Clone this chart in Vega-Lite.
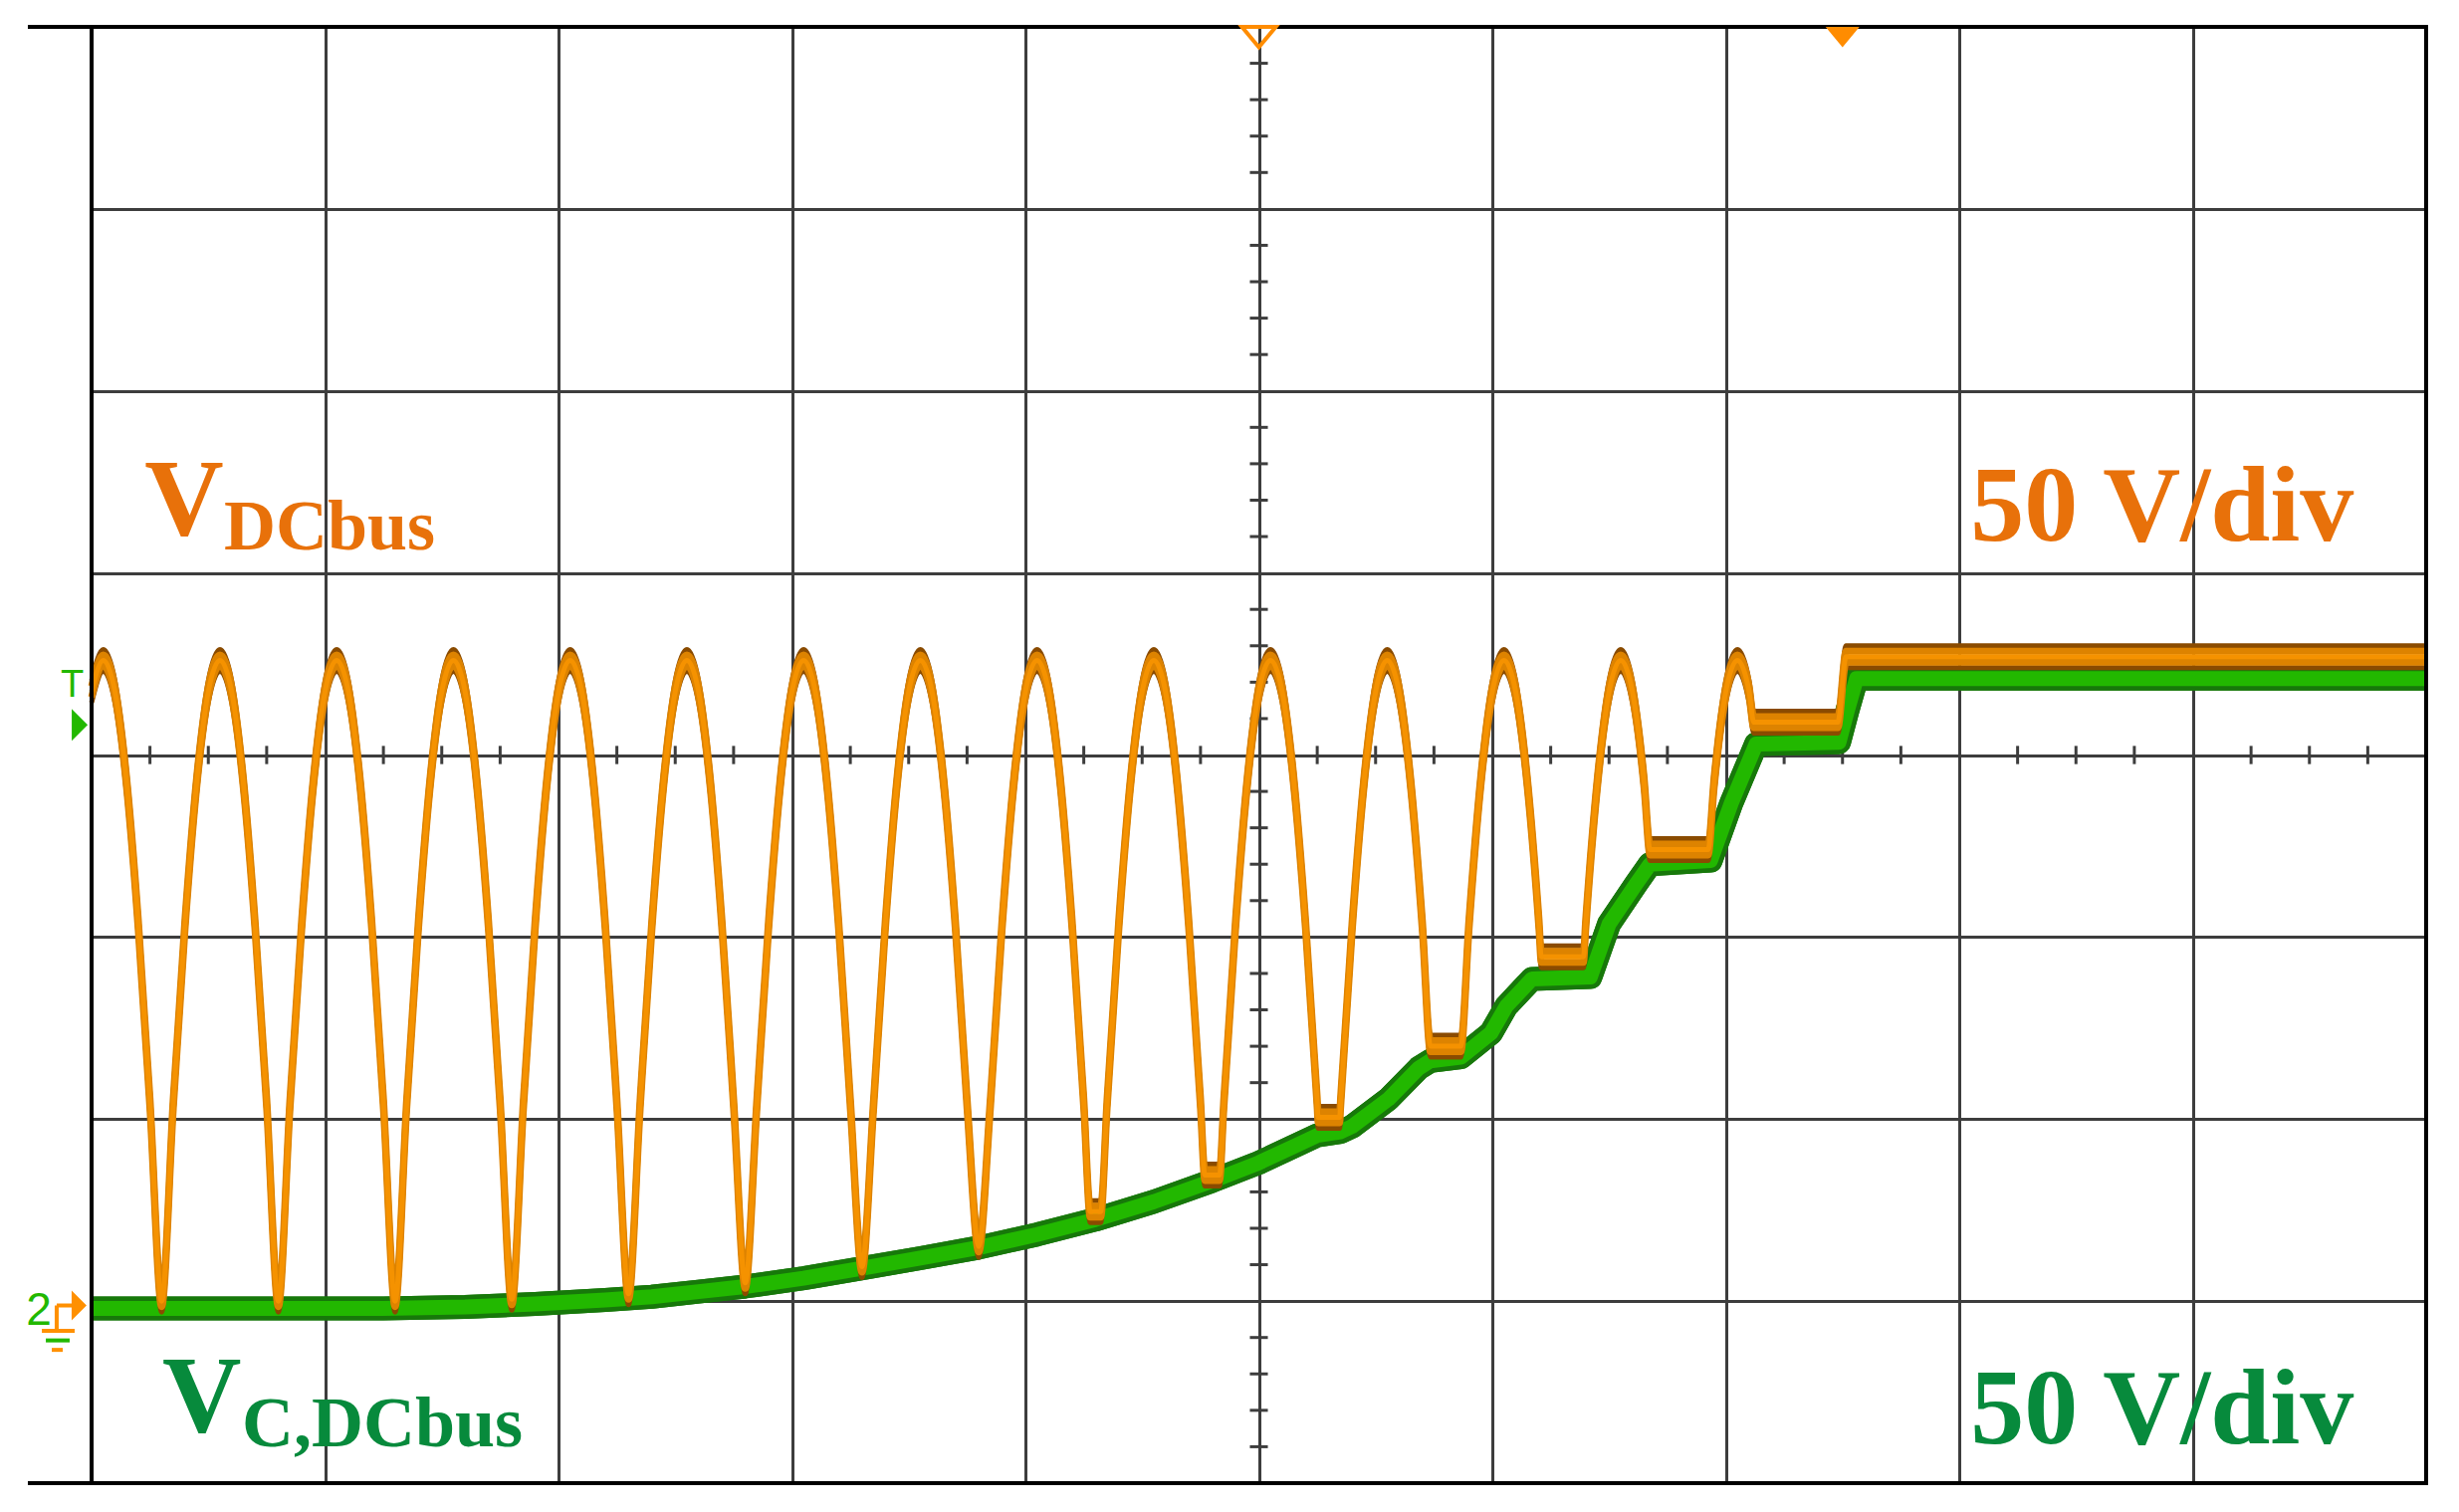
{
"$schema":"https://vega.github.io/schema/vega-lite/v6.json",
"width":2345,"height":1463,
"autosize":{"type":"none"},
"padding":{"left":92,"top":27,"right":33,"bottom":29},
"background":"#ffffff",
"data":{"values":[{}]},
"config":{"view":{"stroke":null},"axis":{"labels":false,"ticks":false,"domain":false,"grid":true,"gridColor":"#3d3d3d","gridWidth":3,"gridOpacity":1,"titleOpacity":0}},
"datasets":{
"vdcbus":[
{"t":0,"v":167.4},{"t":1,"v":176},{"t":2,"v":167.4},{"t":3,"v":142.4},{"t":4,"v":103.4},{"t":5,"v":54.4},{"t":6,"v":0},{"t":7,"v":54.4},{"t":8,"v":103.4},{"t":9,"v":142.4},
{"t":10,"v":167.4},{"t":11,"v":176},{"t":12,"v":167.4},{"t":13,"v":142.4},{"t":14,"v":103.4},{"t":15,"v":54.4},{"t":16,"v":0},{"t":17,"v":54.4},{"t":18,"v":103.4},{"t":19,"v":142.4},
{"t":20,"v":167.4},{"t":21,"v":176},{"t":22,"v":167.4},{"t":23,"v":142.4},{"t":24,"v":103.4},{"t":25,"v":54.4},{"t":26,"v":0},{"t":27,"v":54.4},{"t":28,"v":103.4},{"t":29,"v":142.4},
{"t":30,"v":167.4},{"t":31,"v":176},{"t":32,"v":167.4},{"t":33,"v":142.4},{"t":34,"v":103.4},{"t":35,"v":54.4},{"t":36,"v":0.5},{"t":37,"v":54.4},{"t":38,"v":103.4},{"t":39,"v":142.4},
{"t":40,"v":167.4},{"t":41,"v":176},{"t":42,"v":167.4},{"t":43,"v":142.4},{"t":44,"v":103.4},{"t":45,"v":54.4},{"t":46,"v":2},{"t":47,"v":54.4},{"t":48,"v":103.4},{"t":49,"v":142.4},
{"t":50,"v":167.4},{"t":51,"v":176},{"t":52,"v":167.4},{"t":53,"v":142.4},{"t":54,"v":103.4},{"t":55,"v":54.4},{"t":56,"v":5},{"t":57,"v":54.4},{"t":58,"v":103.4},{"t":59,"v":142.4},
{"t":60,"v":167.4},{"t":61,"v":176},{"t":62,"v":167.4},{"t":63,"v":142.4},{"t":64,"v":103.4},{"t":65,"v":54.4},{"t":66,"v":9.5},{"t":67,"v":54.4},{"t":68,"v":103.4},{"t":69,"v":142.4},
{"t":70,"v":167.4},{"t":71,"v":176},{"t":72,"v":167.4},{"t":73,"v":142.4},{"t":74,"v":103.4},{"t":75,"v":54.4},{"t":76,"v":15},{"t":77,"v":54.4},{"t":78,"v":103.4},{"t":79,"v":142.4},
{"t":80,"v":167.4},{"t":81,"v":176},{"t":82,"v":167.4},{"t":83,"v":142.4},{"t":84,"v":103.4},{"t":85,"v":54.4},{"t":85.55,"v":24.6},{"t":86.45,"v":24.6},{"t":87,"v":54.4},{"t":88,"v":103.4},{"t":89,"v":142.4},
{"t":90,"v":167.4},{"t":91,"v":176},{"t":92,"v":167.4},{"t":93,"v":142.4},{"t":94,"v":103.4},{"t":95,"v":54.4},{"t":95.37,"v":34.6},{"t":96.63,"v":34.6},{"t":97,"v":54.4},{"t":98,"v":103.4},{"t":99,"v":142.4},
{"t":100,"v":167.4},{"t":101,"v":176},{"t":102,"v":167.4},{"t":103,"v":142.4},{"t":104,"v":103.4},{"t":105,"v":54.4},{"t":105.07,"v":50.5},{"t":106.93,"v":50.5},{"t":107,"v":54.4},{"t":108,"v":103.4},{"t":109,"v":142.4},
{"t":110,"v":167.4},{"t":111,"v":176},{"t":112,"v":167.4},{"t":113,"v":142.4},{"t":114,"v":103.4},{"t":114.7,"v":70},{"t":117.3,"v":70},{"t":118,"v":103.4},{"t":119,"v":142.4},
{"t":120,"v":167.4},{"t":121,"v":176},{"t":122,"v":167.4},{"t":123,"v":142.4},{"t":124,"v":103.4},{"t":124.19,"v":94.6},{"t":127.81,"v":94.6},{"t":128,"v":103.4},{"t":129,"v":142.4},
{"t":130,"v":167.4},{"t":131,"v":176},{"t":132,"v":167.4},{"t":133,"v":142.4},{"t":133.51,"v":124},{"t":138.49,"v":124},{"t":139,"v":142.4},
{"t":140,"v":167.4},{"t":141,"v":176},{"t":142,"v":167.4},{"t":142.4,"v":159},{"t":149.6,"v":159},{"t":150.3,"v":177},{"t":200,"v":177}
],
"vc":[
{"t":0,"v":-2},{"t":25,"v":-2},{"t":32,"v":-1.6},{"t":38,"v":-0.8},{"t":44,"v":0.3},{"t":48,"v":1.2},{"t":52,"v":2.6},{"t":56,"v":4},{"t":61,"v":6.3},{"t":66,"v":9},{"t":71,"v":11.8},{"t":76,"v":14.7},{"t":81,"v":18.3},{"t":86,"v":22.4},{"t":91,"v":27.3},{"t":96,"v":33},{"t":100,"v":38},{"t":103,"v":42.5},{"t":105,"v":45.5},{"t":107,"v":46.5},{"t":108,"v":48},{"t":111.1,"v":55.5},{"t":113.7,"v":64},{"t":114.7,"v":66},{"t":117.3,"v":67},{"t":119.9,"v":73.7},{"t":121.2,"v":81},{"t":123.4,"v":88.5},{"t":128.4,"v":89},{"t":130,"v":103.6},{"t":132.3,"v":114.5},{"t":133.5,"v":120},{"t":138.7,"v":121},{"t":140.5,"v":137},{"t":142.6,"v":153},{"t":149.7,"v":153.5},{"t":150.4,"v":162},{"t":151.2,"v":171},{"t":200,"v":171}
],
"xticks":[{"t":5},{"t":10},{"t":15},{"t":25},{"t":30},{"t":35},{"t":45},{"t":50},{"t":55},{"t":65},{"t":70},{"t":75},{"t":85},{"t":90},{"t":95},{"t":105},{"t":110},{"t":115},{"t":125},{"t":130},{"t":135},{"t":145},{"t":150},{"t":155},{"t":165},{"t":170},{"t":175},{"t":185},{"t":190},{"t":195}],
"yticks":[{"v":-40},{"v":-30},{"v":-20},{"v":-10},{"v":10},{"v":20},{"v":30},{"v":40},{"v":60},{"v":70},{"v":80},{"v":90},{"v":110},{"v":120},{"v":130},{"v":140},{"v":160},{"v":170},{"v":180},{"v":190},{"v":210},{"v":220},{"v":230},{"v":240},{"v":260},{"v":270},{"v":280},{"v":290},{"v":310},{"v":320},{"v":330},{"v":340}]
},
"layer":[
{"data":{"name":"vc"},"mark":{"type":"line","stroke":"#17780a","strokeWidth":24,"strokeJoin":"round","interpolate":"linear"},
 "encoding":{
  "x":{"field":"t","type":"quantitative","scale":{"domain":[0,200],"nice":false,"zero":false},"axis":{"values":[20,40,60,80,100,120,140,160,180],"grid":true,"gridColor":"#3d3d3d","gridWidth":3,"gridOpacity":1,"labels":false,"ticks":false,"domain":false,"title":null}},
  "y":{"field":"v","type":"quantitative","scale":{"domain":[-50,350],"nice":false,"zero":false},"axis":{"values":[0,50,100,150,200,250,300],"grid":true,"gridColor":"#3d3d3d","gridWidth":3,"gridOpacity":1,"labels":false,"ticks":false,"domain":false,"title":null}}}},
{"data":{"name":"xticks"},"mark":{"type":"rule","stroke":"#3d3d3d","strokeWidth":3},
 "encoding":{"x":{"field":"t","type":"quantitative"},"y":{"datum":147.5,"type":"quantitative"},"y2":{"datum":152.5}}},
{"data":{"name":"yticks"},"mark":{"type":"rule","stroke":"#3d3d3d","strokeWidth":3},
 "encoding":{"x":{"datum":99.23,"type":"quantitative"},"x2":{"datum":100.77},"y":{"field":"v","type":"quantitative"}}},
{"data":{"name":"vc"},"mark":{"type":"line","stroke":"#17780a","strokeWidth":24,"strokeJoin":"round","interpolate":"linear"},
 "encoding":{"x":{"field":"t","type":"quantitative"},"y":{"field":"v","type":"quantitative"}}},
{"data":{"name":"vc"},"mark":{"type":"line","stroke":"#22b800","strokeWidth":15,"strokeJoin":"round","interpolate":"linear"},
 "encoding":{"x":{"field":"t","type":"quantitative"},"y":{"field":"v","type":"quantitative"}}},
{"data":{"name":"vdcbus"},"mark":{"type":"line","stroke":"#8a4b00","strokeWidth":5,"strokeJoin":"round","interpolate":"monotone","yOffset":-11},
 "encoding":{"x":{"field":"t","type":"quantitative"},"y":{"field":"v","type":"quantitative"}}},
{"data":{"name":"vdcbus"},"mark":{"type":"line","stroke":"#8a4b00","strokeWidth":5,"strokeJoin":"round","interpolate":"monotone","yOffset":11},
 "encoding":{"x":{"field":"t","type":"quantitative"},"y":{"field":"v","type":"quantitative"}}},
{"data":{"name":"vdcbus"},"mark":{"type":"line","stroke":"#dd8300","strokeWidth":7,"strokeJoin":"round","interpolate":"monotone","yOffset":-5.5},
 "encoding":{"x":{"field":"t","type":"quantitative"},"y":{"field":"v","type":"quantitative"}}},
{"data":{"name":"vdcbus"},"mark":{"type":"line","stroke":"#dd8300","strokeWidth":7,"strokeJoin":"round","interpolate":"monotone","yOffset":5.5},
 "encoding":{"x":{"field":"t","type":"quantitative"},"y":{"field":"v","type":"quantitative"}}},
{"data":{"name":"vdcbus"},"mark":{"type":"line","stroke":"#f59200","strokeWidth":5,"strokeJoin":"round","interpolate":"monotone"},
 "encoding":{"x":{"field":"t","type":"quantitative"},"y":{"field":"v","type":"quantitative"}}},
{"mark":{"type":"text","text":"V","font":"Liberation Serif","fontWeight":"bold","fontSize":110,"fill":"#e8710a","align":"left","baseline":"alphabetic"},
 "encoding":{"x":{"datum":4.54,"type":"quantitative"},"y":{"datum":210.5,"type":"quantitative"}}},
{"mark":{"type":"text","text":"DCbus","font":"Liberation Serif","fontWeight":"bold","fontSize":72,"fill":"#e8710a","align":"left","baseline":"alphabetic"},
 "encoding":{"x":{"datum":11.34,"type":"quantitative"},"y":{"datum":206.4,"type":"quantitative"}}},
{"mark":{"type":"text","text":"V","font":"Liberation Serif","fontWeight":"bold","fontSize":110,"fill":"#078a3c","align":"left","baseline":"alphabetic"},
 "encoding":{"x":{"datum":6.06,"type":"quantitative"},"y":{"datum":-35.8,"type":"quantitative"}}},
{"mark":{"type":"text","text":"C,DCbus","font":"Liberation Serif","fontWeight":"bold","fontSize":72,"fill":"#078a3c","align":"left","baseline":"alphabetic"},
 "encoding":{"x":{"datum":12.88,"type":"quantitative"},"y":{"datum":-39.9,"type":"quantitative"}}},
{"mark":{"type":"text","text":"50 V/div","font":"Liberation Serif","fontWeight":"bold","fontSize":108,"fill":"#e8710a","align":"right","baseline":"alphabetic"},
 "encoding":{"x":{"datum":193.8,"type":"quantitative"},"y":{"datum":208.9,"type":"quantitative"}}},
{"mark":{"type":"text","text":"50 V/div","font":"Liberation Serif","fontWeight":"bold","fontSize":108,"fill":"#078a3c","align":"right","baseline":"alphabetic"},
 "encoding":{"x":{"datum":193.8,"type":"quantitative"},"y":{"datum":-39.1,"type":"quantitative"}}},
{"mark":{"type":"text","text":"T","font":"Liberation Sans","fontSize":38,"fill":"#22b800","align":"center","baseline":"alphabetic"},
 "encoding":{"x":{"datum":-1.66,"type":"quantitative"},"y":{"datum":166,"type":"quantitative"}}},
{"mark":{"type":"point","shape":"M-0.5,-1L0.5,0L-0.5,1Z","size":1024,"filled":true,"fill":"#22b800","strokeWidth":0,"opacity":1},
 "encoding":{"x":{"datum":-1.02,"type":"quantitative"},"y":{"datum":158.3,"type":"quantitative"}}},
{"mark":{"type":"text","text":"2","font":"Liberation Sans","fontSize":46,"fill":"#22b800","align":"center","baseline":"alphabetic"},
 "encoding":{"x":{"datum":-4.52,"type":"quantitative"},"y":{"datum":-6.6,"type":"quantitative"}}},
{"mark":{"type":"rule","stroke":"#ff9000","strokeWidth":4},
 "encoding":{"x":{"datum":-2.99,"type":"quantitative"},"x2":{"datum":-1.5},"y":{"datum":-1.2,"type":"quantitative"}}},
{"mark":{"type":"rule","stroke":"#ff9000","strokeWidth":4},
 "encoding":{"x":{"datum":-2.99,"type":"quantitative"},"y":{"datum":-1.2,"type":"quantitative"},"y2":{"datum":-8.2}}},
{"mark":{"type":"rule","stroke":"#ff9000","strokeWidth":4},
 "encoding":{"x":{"datum":-4.26,"type":"quantitative"},"x2":{"datum":-1.45},"y":{"datum":-8.2,"type":"quantitative"}}},
{"mark":{"type":"rule","stroke":"#22b800","strokeWidth":4},
 "encoding":{"x":{"datum":-3.92,"type":"quantitative"},"x2":{"datum":-1.88},"y":{"datum":-10.8,"type":"quantitative"}}},
{"mark":{"type":"rule","stroke":"#ff9000","strokeWidth":4},
 "encoding":{"x":{"datum":-3.41,"type":"quantitative"},"x2":{"datum":-2.47},"y":{"datum":-13.4,"type":"quantitative"}}},
{"mark":{"type":"point","shape":"M-0.5,-1L0.5,0L-0.5,1Z","size":900,"filled":true,"fill":"#ff9000","strokeWidth":0,"opacity":1},
 "encoding":{"x":{"datum":-1.07,"type":"quantitative"},"y":{"datum":-1.2,"type":"quantitative"}}},
{"mark":{"type":"rule","stroke":"#000000","strokeWidth":4,"strokeCap":"square"},
 "encoding":{"x":{"datum":-5.29,"type":"quantitative"},"x2":{"datum":200},"y":{"datum":350,"type":"quantitative"}}},
{"mark":{"type":"rule","stroke":"#000000","strokeWidth":4,"strokeCap":"square"},
 "encoding":{"x":{"datum":-5.29,"type":"quantitative"},"x2":{"datum":200},"y":{"datum":-50,"type":"quantitative"}}},
{"mark":{"type":"rule","stroke":"#000000","strokeWidth":4,"strokeCap":"square"},
 "encoding":{"x":{"datum":0,"type":"quantitative"},"y":{"datum":-50,"type":"quantitative"},"y2":{"datum":350}}},
{"mark":{"type":"rule","stroke":"#000000","strokeWidth":4,"strokeCap":"square"},
 "encoding":{"x":{"datum":200,"type":"quantitative"},"y":{"datum":-50,"type":"quantitative"},"y2":{"datum":350}}},
{"mark":{"type":"point","shape":"M-1,-0.6L1,-0.6L0,0.6Z","size":1156,"filled":false,"stroke":"#ff8c00","strokeWidth":4,"opacity":1},
 "encoding":{"x":{"datum":100,"type":"quantitative"},"y":{"datum":347.2,"type":"quantitative"}}},
{"mark":{"type":"point","shape":"M-1,-0.6L1,-0.6L0,0.6Z","size":1156,"filled":true,"fill":"#ff8c00","strokeWidth":0,"opacity":1},
 "encoding":{"x":{"datum":150,"type":"quantitative"},"y":{"datum":347.2,"type":"quantitative"}}}
]
}
